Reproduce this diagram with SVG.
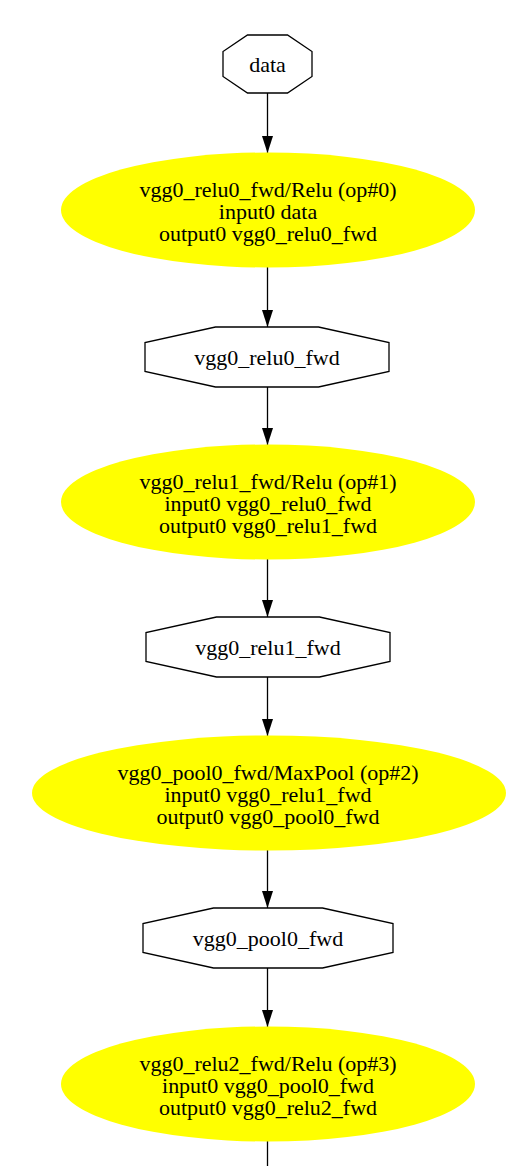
<svg xmlns="http://www.w3.org/2000/svg" width="531" height="1166" viewBox="0 0 531 1166">
<style>
.op{fill:#ffff00;stroke:none}
.t{fill:none;stroke:#000;stroke-width:1.3}
.e{stroke:#000;stroke-width:1.3;fill:none}
text{font-family:"Liberation Serif","Times New Roman",serif;font-size:22px;fill:#000;text-anchor:middle}
.ml text{font-size:20px}
</style>
<defs>
<marker id="ah" markerUnits="userSpaceOnUse" viewBox="0 0 17 11" refX="17" refY="5.5" markerWidth="17" markerHeight="11" orient="auto">
<path d="M0,0 L17,5.5 L0,11 Z" fill="#000"/>
</marker>
</defs>
<rect width="531" height="1166" fill="#fff"/>
<g id="connectors">
<line class="e" x1="267.5" y1="93" x2="267.5" y2="153" marker-end="url(#ah)"/>
<line class="e" x1="267.5" y1="267" x2="267.5" y2="327" marker-end="url(#ah)"/>
<line class="e" x1="267.5" y1="387" x2="267.5" y2="445" marker-end="url(#ah)"/>
<line class="e" x1="267.5" y1="559" x2="267.5" y2="617" marker-end="url(#ah)"/>
<line class="e" x1="267.5" y1="677" x2="267.5" y2="736" marker-end="url(#ah)"/>
<line class="e" x1="267.5" y1="850" x2="267.5" y2="908" marker-end="url(#ah)"/>
<line class="e" x1="267.5" y1="968" x2="267.5" y2="1027" marker-end="url(#ah)"/>
<line class="e" x1="267.5" y1="1141" x2="267.5" y2="1166"/>
</g>
<g id="data">
<polygon class="t" points="247.5,35 287.5,35 312,51.5 312,76.5 287.5,93 247.5,93 223,76.5 223,51.5"/>
<text x="267.5" y="72">data</text>
</g>
<g id="op0">
<ellipse class="op" cx="268" cy="210" rx="207" ry="57.5"/>
<g class="ml" transform="translate(268 0) scale(1.1 1)">
<text x="0" y="197">vgg0_relu0_fwd/Relu (op#0)</text>
<text x="0" y="219.2">input0 data</text>
<text x="0" y="241.4">output0 vgg0_relu0_fwd</text>
</g>
</g>
<g id="vgg0_relu0_fwd">
<polygon class="t" points="215.5,327 318.5,327 389,342.5 389,371.5 318.5,387 215.5,387 145,371.5 145,342.5"/>
<text x="267" y="365">vgg0_relu0_fwd</text>
</g>
<g id="op1">
<ellipse class="op" cx="268" cy="502" rx="207" ry="57.5"/>
<g class="ml" transform="translate(268 0) scale(1.1 1)">
<text x="0" y="489">vgg0_relu1_fwd/Relu (op#1)</text>
<text x="0" y="511.2">input0 vgg0_relu0_fwd</text>
<text x="0" y="533.4">output0 vgg0_relu1_fwd</text>
</g>
</g>
<g id="vgg0_relu1_fwd">
<polygon class="t" points="216.5,617 319.5,617 390,632.5 390,661.5 319.5,677 216.5,677 146,661.5 146,632.5"/>
<text x="268" y="655">vgg0_relu1_fwd</text>
</g>
<g id="op2">
<ellipse class="op" cx="269" cy="793" rx="237" ry="57.5"/>
<g class="ml" transform="translate(268 0) scale(1.1 1)">
<text x="0" y="780">vgg0_pool0_fwd/MaxPool (op#2)</text>
<text x="0" y="802.2">input0 vgg0_relu1_fwd</text>
<text x="0" y="824.4">output0 vgg0_pool0_fwd</text>
</g>
</g>
<g id="vgg0_pool0_fwd">
<polygon class="t" points="213.5,908 322.5,908 393,923.5 393,952.5 322.5,968 213.5,968 143,952.5 143,923.5"/>
<text x="268" y="946">vgg0_pool0_fwd</text>
</g>
<g id="op3">
<ellipse class="op" cx="268" cy="1084" rx="207" ry="57.5"/>
<g class="ml" transform="translate(268 0) scale(1.1 1)">
<text x="0" y="1071">vgg0_relu2_fwd/Relu (op#3)</text>
<text x="0" y="1093.2">input0 vgg0_pool0_fwd</text>
<text x="0" y="1115.4">output0 vgg0_relu2_fwd</text>
</g>
</g>
</svg>
